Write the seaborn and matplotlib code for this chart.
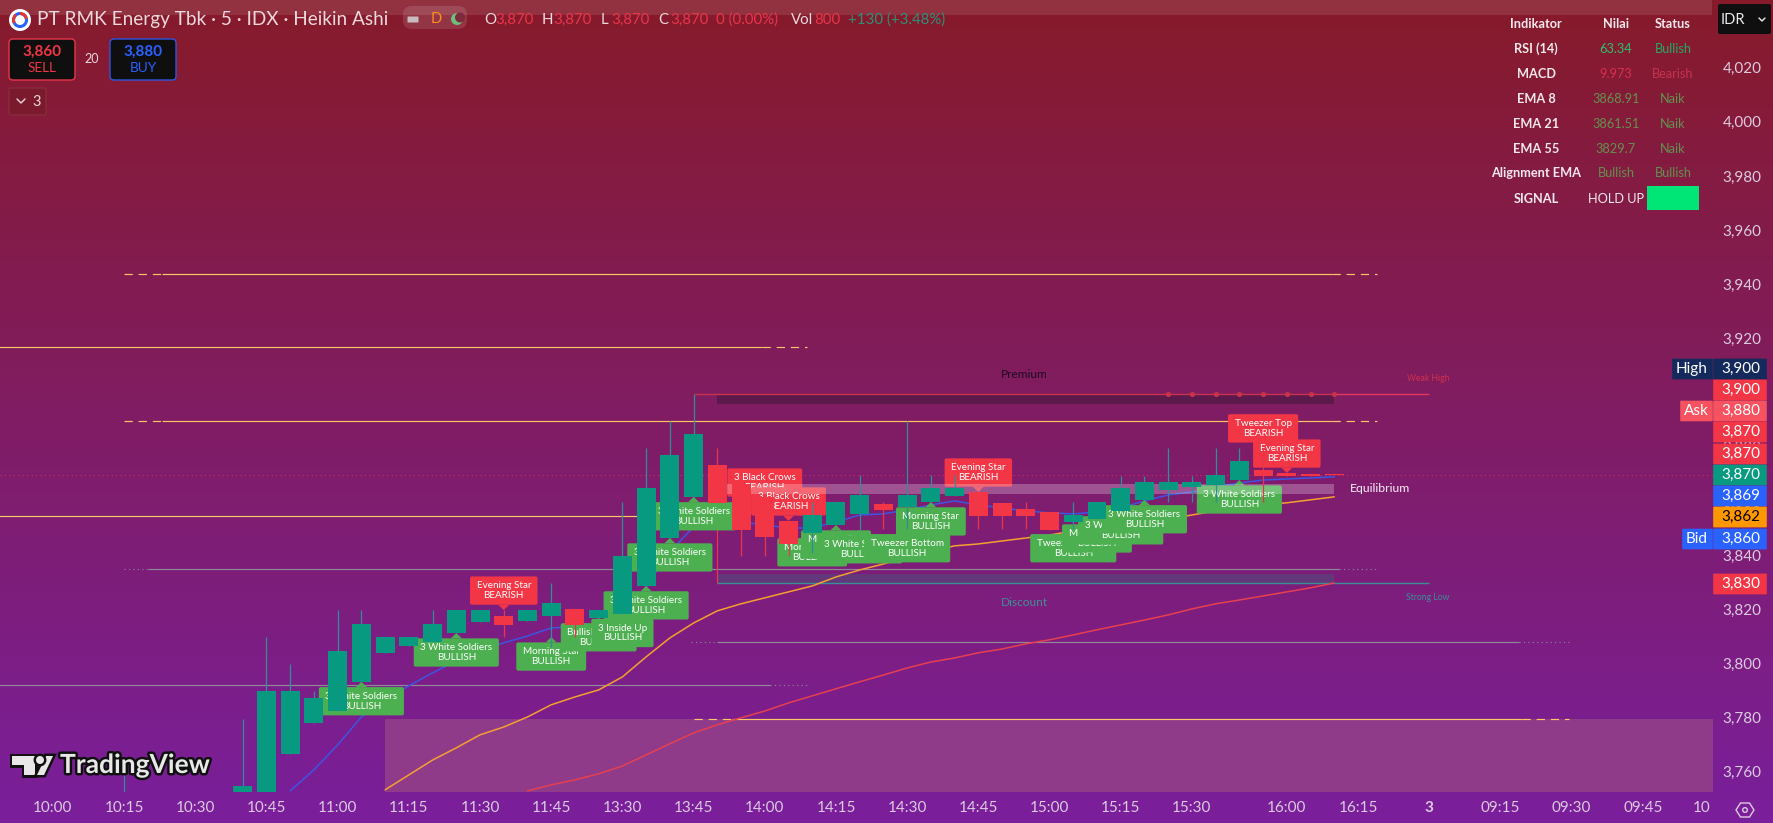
import numpy as np
import seaborn as sns
import matplotlib.pyplot as plt
from matplotlib.colors import LinearSegmentedColormap
from matplotlib.patches import FancyBboxPatch, Polygon, Rectangle, Circle
from matplotlib.transforms import IdentityTransform
import matplotlib.patheffects as pe

# candles (Heikin Ashi, 5 min)
BARS = [-5] + list(range(47))
OPEN = [3745, 3752, 3745, 3766.7, 3778, 3782.4, 3793.2, 3803.9, 3806.4, 3807.9, 3811.2, 3815.3, 3817.5, 3815.7, 3817.5,
        3820.1, 3816.8, 3818.4, 3828.6, 3846.3, 3861.5, 3873.3, 3866.3, 3861.5, 3852.6, 3848.2, 3851.1, 3855.2, 3858.9,
        3857.8, 3859.6, 3861.8, 3863.3, 3859.3, 3857, 3856, 3852.2, 3853.3, 3856.3, 3860.4, 3864.1, 3865.2, 3865.9,
        3867.7, 3871.4, 3870.3, 3870, 3870]
CLOSE = [3748, 3754.7, 3789.8, 3789.8, 3787.2, 3804.6, 3814.6, 3809.8, 3809.8, 3814.6, 3819.7, 3819.7, 3814.2, 3819.7, 3822.3,
         3814.2, 3819.7, 3839.7, 3864.8, 3877, 3884.7, 3859.3, 3849.3, 3846.7, 3844.1, 3854.8, 3859.6, 3862.2, 3856.7,
         3862.2, 3864.8, 3864.8, 3854.5, 3854.5, 3854.5, 3849.3, 3854.8, 3859.6, 3864.8, 3867, 3867, 3867, 3869.6,
         3874.8, 3869.2, 3869.2, 3869.2, 3869.6]
HIGH = [3760.6, 3779.5, 3809.7, 3799.7, 3789.8, 3819.7, 3819.7, 3809.8, 3809.8, 3819.7, 3819.7, 3819.7, 3819.7, 3819.7, 3829.7,
        3820.1, 3819.7, 3859.7, 3879.5, 3889.6, 3899.5, 3879.6, 3866.3, 3861.5, 3852.6, 3859.6, 3859.6, 3869.6, 3859.6,
        3889.6, 3869.6, 3869.6, 3863.3, 3859.3, 3859.6, 3856, 3859.6, 3859.6, 3869.2, 3869.2, 3879.6, 3869.2, 3879.6,
        3879.6, 3879.6, 3870.3, 3870, 3870]
LOW = [3745, 3745, 3745, 3766.7, 3778, 3782.4, 3793.2, 3803.9, 3806.4, 3807.9, 3811.2, 3815.3, 3809.8, 3815.7, 3806.2,
       3809.8, 3816.8, 3818.4, 3828.6, 3846.3, 3861.5, 3859.3, 3839.8, 3839.8, 3839.8, 3840.8, 3851.1, 3849.3, 3849.7,
       3849.7, 3859.6, 3861.8, 3849.7, 3849.7, 3849.7, 3849.3, 3849.7, 3853.3, 3856.3, 3860.4, 3859.6, 3859.6, 3859.6,
       3867.7, 3859.6, 3869.2, 3869.2, 3869.6]

# moving averages
EMA8_BARS = list(range(2, 47))
EMA8 = [3752.9, 3760.7, 3769.9, 3780.2, 3786.5, 3791.7, 3796.5, 3800.9, 3805, 3807.6, 3810.1, 3813.1, 3813.5, 3813.5,
        3817.9, 3828.2, 3841.2, 3850.4, 3853, 3852.2, 3851.1, 3850, 3850, 3852.2, 3854.8, 3855.2, 3856.7, 3858.5, 3860,
        3858.5, 3857.4, 3856.3, 3855.6, 3855.2, 3855.9, 3857.4, 3860, 3862.2, 3863.3, 3865.2, 3866.6, 3867.7, 3868.1,
        3868.5, 3868.9]
EMA21_BARS = list(range(6, 47))
EMA21 = [3753.3, 3758.8, 3764.3, 3768.8, 3773.6, 3776.5, 3780.2, 3784.7, 3787.6, 3790.2, 3795, 3802.4, 3809.4, 3814.9,
         3819.4, 3822, 3824.2, 3826.4, 3828.6, 3831.9, 3834.5, 3836.7, 3839.3, 3841.5, 3843.4, 3844.1, 3845.2, 3846.3,
         3847.4, 3848.9, 3850.4, 3851.5, 3852.6, 3853.3, 3854.8, 3856.3, 3857.4, 3858.5, 3859.3, 3860.4, 3861.5]
EMA55_BARS = list(range(12, 47))
EMA55 = [3752.9, 3755.1, 3757, 3759.2, 3762.1, 3766.2, 3770.3, 3774.3, 3777.3, 3779.9, 3782.4, 3785.4, 3788, 3790.6,
         3793.2, 3795.7, 3798.3, 3800.5, 3802, 3803.9, 3805.3, 3807.2, 3808.7, 3810.5, 3812.4, 3814.2, 3816, 3817.9,
         3820.1, 3822, 3823.4, 3824.9, 3826.4, 3827.9, 3829.7]

# pattern labels
LABEL_BARS = [5, 9, 11, 13, 15, 16, 17, 18, 19, 22, 23, 24, 25, 26, 28, 29, 31, 35, 36, 37, 38, 42, 43, 44]
LABEL_TIPS = [3793.2, 3811.2, 3819.7, 3809.7, 3816.8, 3818.4, 3828.6, 3846.3, 3861.5, 3859.6, 3852.6, 3848.2, 3851.1,
              3849.3, 3849.7, 3859.6, 3863.3, 3849.7, 3853.3, 3856.3, 3860.4, 3867.7, 3879.6, 3870.3]
LABEL_NAMES = ['3 White Soldiers', '3 White Soldiers', 'Evening Star', 'Morning Star', 'Bullish Harami', '3 Inside Up',
               '3 White Soldiers', '3 White Soldiers', '3 White Soldiers', '3 Black Crows', '3 Black Crows', 'Morning Star',
               'Morning Star', '3 White Soldiers', 'Tweezer Bottom', 'Morning Star', 'Evening Star', 'Tweezer Bottom',
               'Morning Star', '3 White Soldiers', '3 White Soldiers', '3 White Soldiers', 'Tweezer Top', 'Evening Star']
BEARISH_BARS = [11, 22, 23, 31, 43, 44]

# horizontal levels
YELLOW_PRICE = [3943.7, 3917, 3889.5, 3854.6, 3779.5]
YELLOW_FROM = [-5, -11, -5, -11, 19]
YELLOW_SOLID_FROM = [-3.4, -11, -3.4, -11, 20.6]
YELLOW_SOLID_TO = [45.9, 21.9, 45.9, 20, 53.9]
YELLOW_TO = [47.8, 23.8, 47.8, 20, 55.9]
GREY_PRICE = [3835, 3808, 3792]
GREY_FROM = [-5, 18.9, -11]
GREY_SOLID_FROM = [-4, 20, -11]
GREY_SOLID_TO = [46.2, 53.8, 22.2]
GREY_TO = [47.9, 55.9, 23.9]
LAST_PRICE = 3869.6
SWING_HIGH = 3899.5
SWING_LOW = 3829.7
WEAK_HIGH_BARS = [39, 40, 41, 42, 43, 44, 45, 46]

# axis ticks
PRICE_TICKS = list(range(3760, 4021, 20))
TIME_TICKS = [-8, -5, -2, 1, 4, 7, 10, 13, 16, 19, 22, 25, 28, 31, 34, 37, 40, 44, 47, 50, 53, 56, 59, 61.5]
TIME_LABELS = ['10:00', '10:15', '10:30', '10:45', '11:00', '11:15', '11:30', '11:45', '13:30', '13:45', '14:00', '14:15',
               '14:30', '14:45', '15:00', '15:15', '15:30', '16:00', '16:15', '3', '09:15', '09:30', '09:45', '10']

# price tags on the scale
TAG_VALUES = ['3,900', '3,900', '3,880', '3,870', '3,870', '3,870', '3,869', '3,862', '3,860', '3,830']
TAG_COLORS = ['#142a5c', '#f23645', '#f7525f', '#f23645', '#f23645', '#089981', '#2962ff', '#ff9800', '#2962ff', '#f23645']
TAG_CENTERS = [369, 390, 411, 432, 454, 475, 496, 517, 539, 584]

# indicator table
TABLE_ROWS = ['Indikator', 'RSI (14)', 'MACD', 'EMA 8', 'EMA 21', 'EMA 55', 'Alignment EMA', 'SIGNAL']
TABLE_VALUES = ['Nilai', '63.34', '9.973', '3868.91', '3861.51', '3829.7', 'Bullish', 'HOLD UP']
TABLE_STATUS = ['Status', 'Bullish', 'Bearish', 'Naik', 'Naik', 'Naik', 'Bullish', '']
VALUE_COLORS = ['#f4e8ec', '#2bc06e', '#d92f4e', '#64904f', '#64904f', '#64904f', '#64904f', '#f4e8ec']
STATUS_COLORS = ['#f4e8ec', '#25a862', '#c8324f', '#64904f', '#64904f', '#64904f', '#64904f', '#f4e8ec']
ROW_Y = [23.5, 49, 73.5, 98.7, 123.7, 148.7, 173, 198.7]

OHLC_LETTERS = ['O', 'H', 'L', 'C']
OHLC_LETTER_X = [484, 542, 601, 658]
OHLC_VALUE_X = [495, 553, 611, 670]

TEAL = '#089981'
RED = '#f23645'
GREEN_LABEL = '#4caf50'
YELLOW = '#ffc766'
GREY = '#8f8a98'
AXIS_TEXT = '#dccbe0'
FONT = 'Lato'

sns.set_theme(style='dark', rc={'axes.grid': False})
plt.rcParams['font.family'] = [FONT, 'DejaVu Sans']

fig = plt.figure(figsize=(17.73, 8.23), dpi=100)

# gradient behind everything
bg = fig.add_axes([0, 0, 1, 1], zorder=-1)
bg_cmap = LinearSegmentedColormap.from_list('bg', ['#871a2a', '#7a1f9c'])
bg.imshow(np.linspace(0, 1, 256).reshape(-1, 1), aspect='auto', cmap=bg_cmap)
bg.axis('off')

# chart area: 1713 px wide, 792 px high
ax = fig.add_axes([0, 1 - 791.7 / 823, 1713 / 1773, 791.7 / 823], zorder=1)
ax.patch.set_alpha(0)
for side in ax.spines.values():
    side.set_visible(False)

# zones
ax.add_patch(Rectangle((6, 3745), 56, 34.5, fc='#8f3b8a', ec='none', zorder=1))
ax.add_patch(Rectangle((20, 3895.8), 26, 3.7, fc='#5c1a4c', ec='none', zorder=1))
ax.add_patch(Rectangle((20, 3829.7), 26, 3.3, fc=TEAL, alpha=0.22, ec='none', zorder=1))
ax.add_patch(Rectangle((20.4, 3862.6), 25.6, 3.7, fc='white', alpha=0.25, ec='none', zorder=4))

# levels: solid in the middle, dashed or dotted tails
ax.hlines(YELLOW_PRICE, YELLOW_SOLID_FROM, YELLOW_SOLID_TO, color=YELLOW, lw=0.85, zorder=2)
ax.hlines(YELLOW_PRICE, YELLOW_FROM, YELLOW_SOLID_FROM, color=YELLOW, lw=0.85, linestyles=(0, (7, 5)), zorder=2)
ax.hlines(YELLOW_PRICE, YELLOW_SOLID_TO, YELLOW_TO, color=YELLOW, lw=0.85, linestyles=(0, (7, 5)), zorder=2)
ax.hlines(GREY_PRICE, GREY_SOLID_FROM, GREY_SOLID_TO, color=GREY, lw=0.85, zorder=2)
ax.hlines(GREY_PRICE, GREY_FROM, GREY_SOLID_FROM, color=GREY, lw=0.8, linestyles=(0, (1, 3)), zorder=2)
ax.hlines(GREY_PRICE, GREY_SOLID_TO, GREY_TO, color=GREY, lw=0.8, linestyles=(0, (1, 3)), zorder=2)
ax.axhline(LAST_PRICE, color='#d83060', lw=0.8, ls=(0, (1, 3)), zorder=2)
ax.hlines(SWING_HIGH, 19, 46, color='#c8324d', lw=1, zorder=2)
ax.hlines(SWING_HIGH, 46, 50, color='#e6365f', lw=1, zorder=2)
ax.hlines(SWING_LOW, 20, 50, color='#3a8f96', lw=1, zorder=2)
ax.vlines(20, SWING_LOW, 3859, color=RED, lw=0.8, zorder=2)
ax.scatter(WEAK_HIGH_BARS, [SWING_HIGH] * len(WEAK_HIGH_BARS), s=14, color='#c8324d', linewidths=0, zorder=2)

# moving averages
sns.lineplot(x=EMA8_BARS, y=EMA8, color='#3d55e2', lw=1.1, ax=ax, zorder=2.5, errorbar=None)
sns.lineplot(x=EMA21_BARS, y=EMA21, color='#f5a030', lw=1.1, ax=ax, zorder=2.5, errorbar=None)
sns.lineplot(x=EMA55_BARS, y=EMA55, color='#e64050', lw=1.1, ax=ax, zorder=2.5, errorbar=None)

# candles
opens = np.array(OPEN)
closes = np.array(CLOSE)
candle_colors = [TEAL if c >= o else RED for o, c in zip(OPEN, CLOSE)]
wick_colors = ['#2f8f96' if c >= o else '#e8354a' for o, c in zip(OPEN, CLOSE)]
ax.vlines(BARS, LOW, HIGH, colors=wick_colors, lw=0.9, zorder=4.8)
ax.bar(BARS, np.abs(closes - opens), bottom=np.minimum(opens, closes), width=0.8, color=candle_colors, lw=0, zorder=5)

# ticks, limits come last because set_xticks widens the view
ax.yaxis.tick_right()
ax.set_yticks(PRICE_TICKS, [f'{p:,}' for p in PRICE_TICKS])
ax.set_xticks(TIME_TICKS, TIME_LABELS)
ax.set_xlim(-10.23, 61.96)
ax.set_ylim(3752.6, 4045)
ax.tick_params(axis='both', length=0, colors=AXIS_TEXT, labelsize=11)
ax.tick_params(axis='y', pad=7)
ax.tick_params(axis='x', pad=7)
for lab in ax.get_xticklabels():
    if lab.get_text() == '3':
        lab.set_fontweight('bold')
ax.set_xlabel('')
ax.set_ylabel('')

# pattern labels, drawn in pixels so every box has the same height
renderer = fig.canvas.get_renderer()
for k, (bar, tip, name) in enumerate(zip(LABEL_BARS, LABEL_TIPS, LABEL_NAMES)):
    bearish = bar in BEARISH_BARS
    color = RED if bearish else GREEN_LABEL
    word = 'BEARISH' if bearish else 'BULLISH'
    px, py = ax.transData.transform((bar, tip))
    z = 3 + k * 0.01
    y0 = py + 5.3 if bearish else py - 5.3 - 28.3
    txt = ax.text(px, y0 + 14.1, f'{name}\n{word}', transform=IdentityTransform(), color='white', fontsize=7.1,
                  ha='center', va='center', linespacing=1.1, zorder=z + 0.005)
    w = txt.get_window_extent(renderer).width + 13
    ax.add_patch(FancyBboxPatch((px - w / 2 + 2, y0 + 2), w - 4, 24.3, boxstyle='round,pad=2', fc=color, ec='none',
                                transform=IdentityTransform(), zorder=z))
    edge = y0 if bearish else y0 + 28.3
    ax.add_patch(Polygon([(px - 5.5, edge), (px + 5.5, edge), (px, py)], fc=color, ec='none',
                         transform=IdentityTransform(), zorder=z))

# everything on top of the chart, in image pixels
ui = fig.add_axes([0, 0, 1, 1], zorder=5)
ui.set_xlim(0, 1773)
ui.set_ylim(823, 0)
ui.axis('off')
ui.patch.set_alpha(0)

ui.add_patch(Rectangle((0, 0), 1712, 15, fc='white', alpha=0.1, ec='none'))

# zone captions
ui.text(1024, 374, 'Premium', color='#1c0a22', fontsize=8.6, ha='center', va='center')
ui.text(1024, 603, 'Discount', color='#3f8f98', fontsize=8.6, ha='center', va='center')
ui.text(1380, 488.5, 'Equilibrium', color='#f6eef6', fontsize=8.8, ha='center', va='center')
ui.text(1428, 378, 'Weak High', color='#d0304a', fontsize=6.2, ha='center', va='center')
ui.text(1428, 598, 'Strong Low', color='#3a8f96', fontsize=6.2, ha='center', va='center')

# header
ui.add_patch(Circle((20, 20), 11, fc='white', ec='none'))
ui.add_patch(Circle((20, 20), 6.5, fc='none', ec='#2962ff', lw=2.2))
ui.add_patch(Circle((20, 20), 6.5, fc='none', ec='#e23a30', lw=2.2, ls=(0, (3, 6))))
ui.text(37, 19.5, 'PT RMK Energy Tbk · 5 · IDX · Heikin Ashi', color='#ead9dc', fontsize=13.7, va='center')
ui.add_patch(FancyBboxPatch((406, 9), 58, 17, boxstyle='round,pad=3,rounding_size=9', fc='#ffffff', alpha=0.12, ec='none'))
ui.add_patch(FancyBboxPatch((408, 17), 10, 5, boxstyle='round,pad=0.5', fc='#c9bcc0', ec='none'))
ui.text(436, 19, 'D', color='#ff8c1a', fontsize=10.5, ha='center', va='center')
ui.add_patch(Circle((457, 19), 6, fc='#6fc07a', ec='none'))
ui.add_patch(Circle((460, 17.5), 5, fc='#7d2a3c', ec='none'))

for letter, lx, vx in zip(OHLC_LETTERS, OHLC_LETTER_X, OHLC_VALUE_X):
    ui.text(lx, 19.5, letter, color='#ead9dc', fontsize=10.8, va='center')
    ui.text(vx, 19.5, '3,870', color='#e8354a', fontsize=10.8, va='center')
ui.text(716, 19.5, '0 (0.00%)', color='#e8354a', fontsize=10.8, va='center')
ui.text(791, 19.5, 'Vol', color='#ead9dc', fontsize=10.8, va='center')
ui.text(814, 19.5, '800', color='#e8354a', fontsize=10.8, va='center')
ui.text(848, 19.5, '+130 (+3.48%)', color='#2f8f76', fontsize=10.8, va='center')

# sell / buy buttons
for x0, edge, col, price, word in [(9, '#e8354a', '#f23645', '3,860', 'SELL'), (110, '#2f55e0', '#2962ff', '3,880', 'BUY')]:
    ui.add_patch(FancyBboxPatch((x0 + 4, 43), 58, 33, boxstyle='round,pad=4', fc='#0f0f10', ec=edge, lw=1))
    ui.text(x0 + 33, 51.5, price, color=col, fontsize=11, fontweight='bold', ha='center', va='center')
    ui.text(x0 + 33, 68, word, color=col, fontsize=9.8, ha='center', va='center')
ui.text(92, 59, '20', color='#ead9dc', fontsize=9, ha='center', va='center')
ui.add_patch(FancyBboxPatch((11, 90), 33, 23, boxstyle='round,pad=2', fc='#7a1a2c', ec='#8a3040', lw=0.8))
ui.plot([17, 21, 25], [99, 103, 99], color='#ead9dc', lw=1)
ui.text(37, 101.5, '3', color='#ead9dc', fontsize=10.5, ha='center', va='center')

# table
for row, val, status, vcol, scol, y in zip(TABLE_ROWS, TABLE_VALUES, TABLE_STATUS, VALUE_COLORS, STATUS_COLORS, ROW_Y):
    weight = 'bold' if y == ROW_Y[0] else 'normal'
    ui.text(1536, y, row, color='#f4e8ec', fontsize=9.2, ha='center', va='center', fontweight='bold')
    ui.text(1616, y, val, color=vcol, fontsize=9.2, ha='center', va='center', fontweight=weight)
    ui.text(1673, y, status, color=scol, fontsize=9.2, ha='center', va='center', fontweight=weight)
ui.add_patch(Rectangle((1647, 186), 52, 24, fc='#00e676', ec='none'))

ui.add_patch(FancyBboxPatch((1720, 6), 49, 26, boxstyle='round,pad=2', fc='#0f0f10', ec='none'))
ui.text(1733, 20, 'IDR', color='#ececec', fontsize=10.5, ha='center', va='center')
ui.plot([1759, 1762, 1765], [18, 21, 18], color='#ececec', lw=1)

# price tags
for value, color, y in zip(TAG_VALUES, TAG_COLORS, TAG_CENTERS):
    ui.add_patch(FancyBboxPatch((1714, y - 9.6), 52, 19.2, boxstyle='round,pad=0.8', fc=color, ec='none'))
    ui.text(1741, y, value, color='black' if color == '#ff9800' else 'white', fontsize=11, ha='center', va='center')
for word, x0, y, color in [('High', 1672, 369, '#142a5c'), ('Ask', 1680, 411, '#f7525f'), ('Bid', 1682, 539, '#2962ff')]:
    ui.add_patch(FancyBboxPatch((x0 + 1, y - 9.5), 1711 - x0, 19, boxstyle='round,pad=0.8', fc=color, ec='none'))
    ui.text((x0 + 1712) / 2, y, word, color='white', fontsize=11, ha='center', va='center')

# settings icon
ui.add_patch(Polygon([(1736, 810), (1740.5, 803), (1749.5, 803), (1754, 810), (1749.5, 817), (1740.5, 817)], fc='none',
                     ec=AXIS_TEXT, lw=1))
ui.add_patch(Circle((1745, 810), 2.3, fc='none', ec=AXIS_TEXT, lw=1))

# watermark
halo = [pe.withStroke(linewidth=3.5, foreground='#101010')]
for pts in ([(12, 756), (35, 756), (35, 775), (24, 775), (24, 765), (12, 765)],
            [(46, 756), (53, 756), (44, 775), (37, 775)]):
    ui.add_patch(Polygon(pts, fc='#e8e8e8', ec='none', path_effects=halo))
ui.add_patch(Circle((40, 760), 4, fc='#e8e8e8', ec='none', path_effects=halo))
ui.text(60, 765, 'TradingView', color='#e8e8e8', fontsize=19, fontweight='bold', va='center', path_effects=halo)

plt.savefig('out.png', dpi=100)
